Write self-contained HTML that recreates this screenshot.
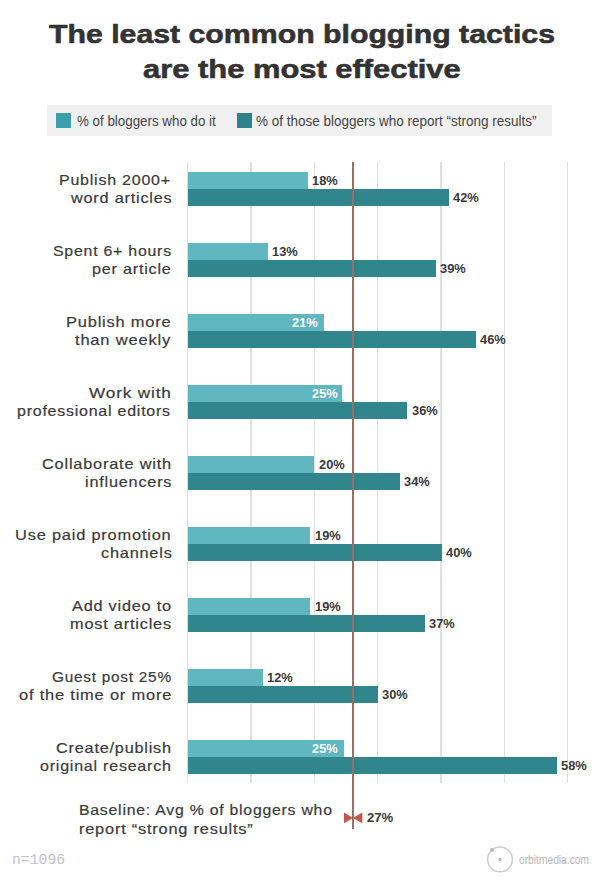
<!DOCTYPE html>
<html><head><meta charset="utf-8"><style>
html,body{margin:0;padding:0;}
body{width:600px;height:890px;background:#fff;position:relative;overflow:hidden;font-family:"Liberation Sans",sans-serif;}
.t{position:absolute;white-space:nowrap;transform-origin:0 0;}
.r{position:absolute;}
</style></head><body>
<div class="r" style="left:47.00px;top:105.00px;width:505.30px;height:30.80px;background:#f0f0f0;"></div>
<div class="r" style="left:56.00px;top:112.80px;width:15.20px;height:15.20px;background:#3aa0aa;"></div>
<div class="r" style="left:236.70px;top:112.80px;width:15.60px;height:15.20px;background:#2e8289;"></div>
<div class="r" style="left:186.60px;top:162.00px;width:1.40px;height:621.30px;background:#e0e0e0;"></div>
<div class="r" style="left:250.20px;top:162.00px;width:1.40px;height:621.30px;background:#e0e0e0;"></div>
<div class="r" style="left:313.70px;top:162.00px;width:1.40px;height:621.30px;background:#e0e0e0;"></div>
<div class="r" style="left:377.00px;top:162.00px;width:1.40px;height:621.30px;background:#e0e0e0;"></div>
<div class="r" style="left:440.30px;top:162.00px;width:1.40px;height:621.30px;background:#e0e0e0;"></div>
<div class="r" style="left:503.80px;top:162.00px;width:1.40px;height:621.30px;background:#e0e0e0;"></div>
<div class="r" style="left:567.10px;top:162.00px;width:1.40px;height:621.30px;background:#e0e0e0;"></div>
<div class="r" style="left:188.30px;top:172.30px;width:119.40px;height:16.70px;background:#61b7c0;"></div>
<div class="r" style="left:188.30px;top:189.00px;width:260.40px;height:16.70px;background:#31858c;"></div>
<div class="r" style="left:188.30px;top:243.30px;width:79.40px;height:16.70px;background:#61b7c0;"></div>
<div class="r" style="left:188.30px;top:260.00px;width:247.40px;height:16.70px;background:#31858c;"></div>
<div class="r" style="left:188.30px;top:314.30px;width:135.40px;height:16.70px;background:#61b7c0;"></div>
<div class="r" style="left:188.30px;top:331.00px;width:287.40px;height:16.70px;background:#31858c;"></div>
<div class="r" style="left:188.30px;top:385.30px;width:153.80px;height:16.70px;background:#61b7c0;"></div>
<div class="r" style="left:188.30px;top:402.00px;width:218.90px;height:16.70px;background:#31858c;"></div>
<div class="r" style="left:188.30px;top:456.30px;width:126.20px;height:16.70px;background:#61b7c0;"></div>
<div class="r" style="left:188.30px;top:473.00px;width:211.80px;height:16.70px;background:#31858c;"></div>
<div class="r" style="left:188.30px;top:527.30px;width:121.70px;height:16.70px;background:#61b7c0;"></div>
<div class="r" style="left:188.30px;top:544.00px;width:253.40px;height:16.70px;background:#31858c;"></div>
<div class="r" style="left:188.30px;top:598.30px;width:121.70px;height:16.70px;background:#61b7c0;"></div>
<div class="r" style="left:188.30px;top:615.00px;width:236.40px;height:16.70px;background:#31858c;"></div>
<div class="r" style="left:188.30px;top:669.30px;width:74.40px;height:16.70px;background:#61b7c0;"></div>
<div class="r" style="left:188.30px;top:686.00px;width:189.80px;height:16.70px;background:#31858c;"></div>
<div class="r" style="left:188.30px;top:740.30px;width:155.40px;height:16.70px;background:#61b7c0;"></div>
<div class="r" style="left:188.30px;top:757.00px;width:368.70px;height:16.70px;background:#31858c;"></div>
<div class="r" style="left:352.10px;top:162.30px;width:1.60px;height:667.10px;background:#977069;"></div>
<svg class="r" style="left:340px;top:808px" width="26" height="20"><polygon points="4,4.5 13,10 4,15.3" fill="#c4564b"/><polygon points="22.3,4.5 13,10 22.3,15.3" fill="#c4564b"/></svg>
<svg class="r" style="left:484px;top:843px" width="32" height="32"><circle cx="16" cy="16.4" r="12.4" fill="none" stroke="#cfcfcf" stroke-width="1.5"/><circle cx="16" cy="16.4" r="1.6" fill="#bbb"/><circle cx="8" cy="7" r="2" fill="#bbb"/></svg>
<div class="t" style="left:48.90px;top:19.20px;font-size:26.5px;line-height:30px;font-weight:bold;color:#333;font-family:'Liberation Sans';transform:scaleX(1.1416);-webkit-text-stroke:0.6px #333;">The least common blogging tactics</div>
<div class="t" style="left:143.10px;top:54.30px;font-size:26.5px;line-height:30px;font-weight:bold;color:#333;font-family:'Liberation Sans';transform:scaleX(1.1662);-webkit-text-stroke:0.6px #333;">are the most effective</div>
<div class="t" style="left:77.10px;top:112.80px;font-size:14px;line-height:16px;font-weight:normal;color:#444;font-family:'Liberation Sans';transform:scaleX(0.9537);">% of bloggers who do it</div>
<div class="t" style="left:256.10px;top:112.80px;font-size:14px;line-height:16px;font-weight:normal;color:#444;font-family:'Liberation Sans';transform:scaleX(0.9641);">% of those bloggers who report “strong results”</div>
<div class="t" style="left:59.39px;top:171.80px;font-size:14.5px;line-height:16px;font-weight:normal;color:#3a3a3a;font-family:'Liberation Sans';transform:scaleX(1.1034);letter-spacing:0.7px;-webkit-text-stroke:0.2px #3a3a3a;">Publish 2000+</div>
<div class="t" style="left:70.61px;top:190.00px;font-size:14.5px;line-height:16px;font-weight:normal;color:#3a3a3a;font-family:'Liberation Sans';transform:scaleX(1.1212);letter-spacing:0.7px;-webkit-text-stroke:0.2px #3a3a3a;">word articles</div>
<div class="t" style="left:311.70px;top:172.90px;font-size:13px;line-height:15px;font-weight:bold;color:#3a3a3a;font-family:'Liberation Sans';transform:scaleX(0.9870);">18%</div>
<div class="t" style="left:453.09px;top:190.00px;font-size:13px;line-height:15px;font-weight:bold;color:#3a3a3a;font-family:'Liberation Sans';transform:scaleX(0.9870);">42%</div>
<div class="t" style="left:53.20px;top:242.80px;font-size:14.5px;line-height:16px;font-weight:normal;color:#3a3a3a;font-family:'Liberation Sans';transform:scaleX(1.0948);letter-spacing:0.7px;-webkit-text-stroke:0.2px #3a3a3a;">Spent 6+ hours</div>
<div class="t" style="left:92.20px;top:261.00px;font-size:14.5px;line-height:16px;font-weight:normal;color:#3a3a3a;font-family:'Liberation Sans';transform:scaleX(1.1162);letter-spacing:0.7px;-webkit-text-stroke:0.2px #3a3a3a;">per article</div>
<div class="t" style="left:271.70px;top:243.90px;font-size:13px;line-height:15px;font-weight:bold;color:#3a3a3a;font-family:'Liberation Sans';transform:scaleX(0.9870);">13%</div>
<div class="t" style="left:440.09px;top:261.00px;font-size:13px;line-height:15px;font-weight:bold;color:#3a3a3a;font-family:'Liberation Sans';transform:scaleX(0.9870);">39%</div>
<div class="t" style="left:66.36px;top:313.80px;font-size:14.5px;line-height:16px;font-weight:normal;color:#3a3a3a;font-family:'Liberation Sans';transform:scaleX(1.1342);letter-spacing:0.7px;-webkit-text-stroke:0.2px #3a3a3a;">Publish more</div>
<div class="t" style="left:75.00px;top:332.00px;font-size:14.5px;line-height:16px;font-weight:normal;color:#3a3a3a;font-family:'Liberation Sans';transform:scaleX(1.1385);letter-spacing:0.7px;-webkit-text-stroke:0.2px #3a3a3a;">than weekly</div>
<div class="t" style="left:292.40px;top:314.90px;font-size:13px;line-height:15px;font-weight:bold;color:#fff;font-family:'Liberation Sans';transform:scaleX(0.9870);">21%</div>
<div class="t" style="left:480.09px;top:332.00px;font-size:13px;line-height:15px;font-weight:bold;color:#3a3a3a;font-family:'Liberation Sans';transform:scaleX(0.9870);">46%</div>
<div class="t" style="left:89.20px;top:384.80px;font-size:14.5px;line-height:16px;font-weight:normal;color:#3a3a3a;font-family:'Liberation Sans';transform:scaleX(1.1870);letter-spacing:0.7px;-webkit-text-stroke:0.2px #3a3a3a;">Work with</div>
<div class="t" style="left:17.20px;top:403.00px;font-size:14.5px;line-height:16px;font-weight:normal;color:#3a3a3a;font-family:'Liberation Sans';transform:scaleX(1.1010);letter-spacing:0.7px;-webkit-text-stroke:0.2px #3a3a3a;">professional editors</div>
<div class="t" style="left:311.60px;top:385.90px;font-size:13px;line-height:15px;font-weight:bold;color:#fff;font-family:'Liberation Sans';transform:scaleX(0.9870);">25%</div>
<div class="t" style="left:411.60px;top:403.00px;font-size:13px;line-height:15px;font-weight:bold;color:#3a3a3a;font-family:'Liberation Sans';transform:scaleX(0.9870);">36%</div>
<div class="t" style="left:42.00px;top:455.80px;font-size:14.5px;line-height:16px;font-weight:normal;color:#3a3a3a;font-family:'Liberation Sans';transform:scaleX(1.1276);letter-spacing:0.7px;-webkit-text-stroke:0.2px #3a3a3a;">Collaborate with</div>
<div class="t" style="left:84.80px;top:474.00px;font-size:14.5px;line-height:16px;font-weight:normal;color:#3a3a3a;font-family:'Liberation Sans';transform:scaleX(1.1214);letter-spacing:0.7px;-webkit-text-stroke:0.2px #3a3a3a;">influencers</div>
<div class="t" style="left:319.09px;top:456.90px;font-size:13px;line-height:15px;font-weight:bold;color:#3a3a3a;font-family:'Liberation Sans';transform:scaleX(0.9870);">20%</div>
<div class="t" style="left:404.30px;top:474.00px;font-size:13px;line-height:15px;font-weight:bold;color:#3a3a3a;font-family:'Liberation Sans';transform:scaleX(0.9870);">34%</div>
<div class="t" style="left:15.37px;top:526.80px;font-size:14.5px;line-height:16px;font-weight:normal;color:#3a3a3a;font-family:'Liberation Sans';transform:scaleX(1.1313);letter-spacing:0.7px;-webkit-text-stroke:0.2px #3a3a3a;">Use paid promotion</div>
<div class="t" style="left:100.50px;top:545.00px;font-size:14.5px;line-height:16px;font-weight:normal;color:#3a3a3a;font-family:'Liberation Sans';transform:scaleX(1.1246);letter-spacing:0.7px;-webkit-text-stroke:0.2px #3a3a3a;">channels</div>
<div class="t" style="left:314.60px;top:527.90px;font-size:13px;line-height:15px;font-weight:bold;color:#3a3a3a;font-family:'Liberation Sans';transform:scaleX(0.9870);">19%</div>
<div class="t" style="left:446.09px;top:545.00px;font-size:13px;line-height:15px;font-weight:bold;color:#3a3a3a;font-family:'Liberation Sans';transform:scaleX(0.9870);">40%</div>
<div class="t" style="left:72.00px;top:597.80px;font-size:14.5px;line-height:16px;font-weight:normal;color:#3a3a3a;font-family:'Liberation Sans';transform:scaleX(1.1218);letter-spacing:0.7px;-webkit-text-stroke:0.2px #3a3a3a;">Add video to</div>
<div class="t" style="left:70.19px;top:616.00px;font-size:14.5px;line-height:16px;font-weight:normal;color:#3a3a3a;font-family:'Liberation Sans';transform:scaleX(1.1260);letter-spacing:0.7px;-webkit-text-stroke:0.2px #3a3a3a;">most articles</div>
<div class="t" style="left:314.60px;top:598.90px;font-size:13px;line-height:15px;font-weight:bold;color:#3a3a3a;font-family:'Liberation Sans';transform:scaleX(0.9870);">19%</div>
<div class="t" style="left:429.09px;top:616.00px;font-size:13px;line-height:15px;font-weight:bold;color:#3a3a3a;font-family:'Liberation Sans';transform:scaleX(0.9870);">37%</div>
<div class="t" style="left:51.80px;top:668.80px;font-size:14.5px;line-height:16px;font-weight:normal;color:#3a3a3a;font-family:'Liberation Sans';transform:scaleX(1.0607);letter-spacing:0.7px;-webkit-text-stroke:0.2px #3a3a3a;">Guest post 25%</div>
<div class="t" style="left:18.70px;top:687.00px;font-size:14.5px;line-height:16px;font-weight:normal;color:#3a3a3a;font-family:'Liberation Sans';transform:scaleX(1.1347);letter-spacing:0.7px;-webkit-text-stroke:0.2px #3a3a3a;">of the time or more</div>
<div class="t" style="left:266.70px;top:669.90px;font-size:13px;line-height:15px;font-weight:bold;color:#3a3a3a;font-family:'Liberation Sans';transform:scaleX(0.9870);">12%</div>
<div class="t" style="left:382.30px;top:687.00px;font-size:13px;line-height:15px;font-weight:bold;color:#3a3a3a;font-family:'Liberation Sans';transform:scaleX(0.9870);">30%</div>
<div class="t" style="left:56.00px;top:739.80px;font-size:14.5px;line-height:16px;font-weight:normal;color:#3a3a3a;font-family:'Liberation Sans';transform:scaleX(1.1216);letter-spacing:0.7px;-webkit-text-stroke:0.2px #3a3a3a;">Create/publish</div>
<div class="t" style="left:40.20px;top:758.00px;font-size:14.5px;line-height:16px;font-weight:normal;color:#3a3a3a;font-family:'Liberation Sans';transform:scaleX(1.1054);letter-spacing:0.7px;-webkit-text-stroke:0.2px #3a3a3a;">original research</div>
<div class="t" style="left:312.40px;top:740.90px;font-size:13px;line-height:15px;font-weight:bold;color:#fff;font-family:'Liberation Sans';transform:scaleX(0.9870);">25%</div>
<div class="t" style="left:561.00px;top:758.00px;font-size:13px;line-height:15px;font-weight:bold;color:#3a3a3a;font-family:'Liberation Sans';transform:scaleX(0.9870);">58%</div>
<div class="t" style="left:367.31px;top:810.20px;font-size:13px;line-height:15px;font-weight:bold;color:#3a3a3a;font-family:'Liberation Sans';transform:scaleX(1.0102);">27%</div>
<div class="t" style="left:79.21px;top:801.80px;font-size:14.5px;line-height:16px;font-weight:normal;color:#3a3a3a;font-family:'Liberation Sans';transform:scaleX(1.0908);letter-spacing:0.7px;-webkit-text-stroke:0.2px #3a3a3a;">Baseline: Avg % of bloggers who</div>
<div class="t" style="left:79.30px;top:820.50px;font-size:14.5px;line-height:16px;font-weight:normal;color:#3a3a3a;font-family:'Liberation Sans';transform:scaleX(1.1280);letter-spacing:0.7px;-webkit-text-stroke:0.2px #3a3a3a;">report “strong results”</div>
<div class="t" style="left:11.81px;top:852.50px;font-size:15px;line-height:16px;font-weight:normal;color:#c4c4c4;font-family:'Liberation Mono';transform:scaleX(0.9830);">n=1096</div>
<div class="t" style="left:519.00px;top:852.60px;font-size:12px;line-height:14px;font-weight:normal;color:#b8b8b8;font-family:'Liberation Sans';transform:scaleX(0.8533);">orbitmedia.com</div>
</body></html>
